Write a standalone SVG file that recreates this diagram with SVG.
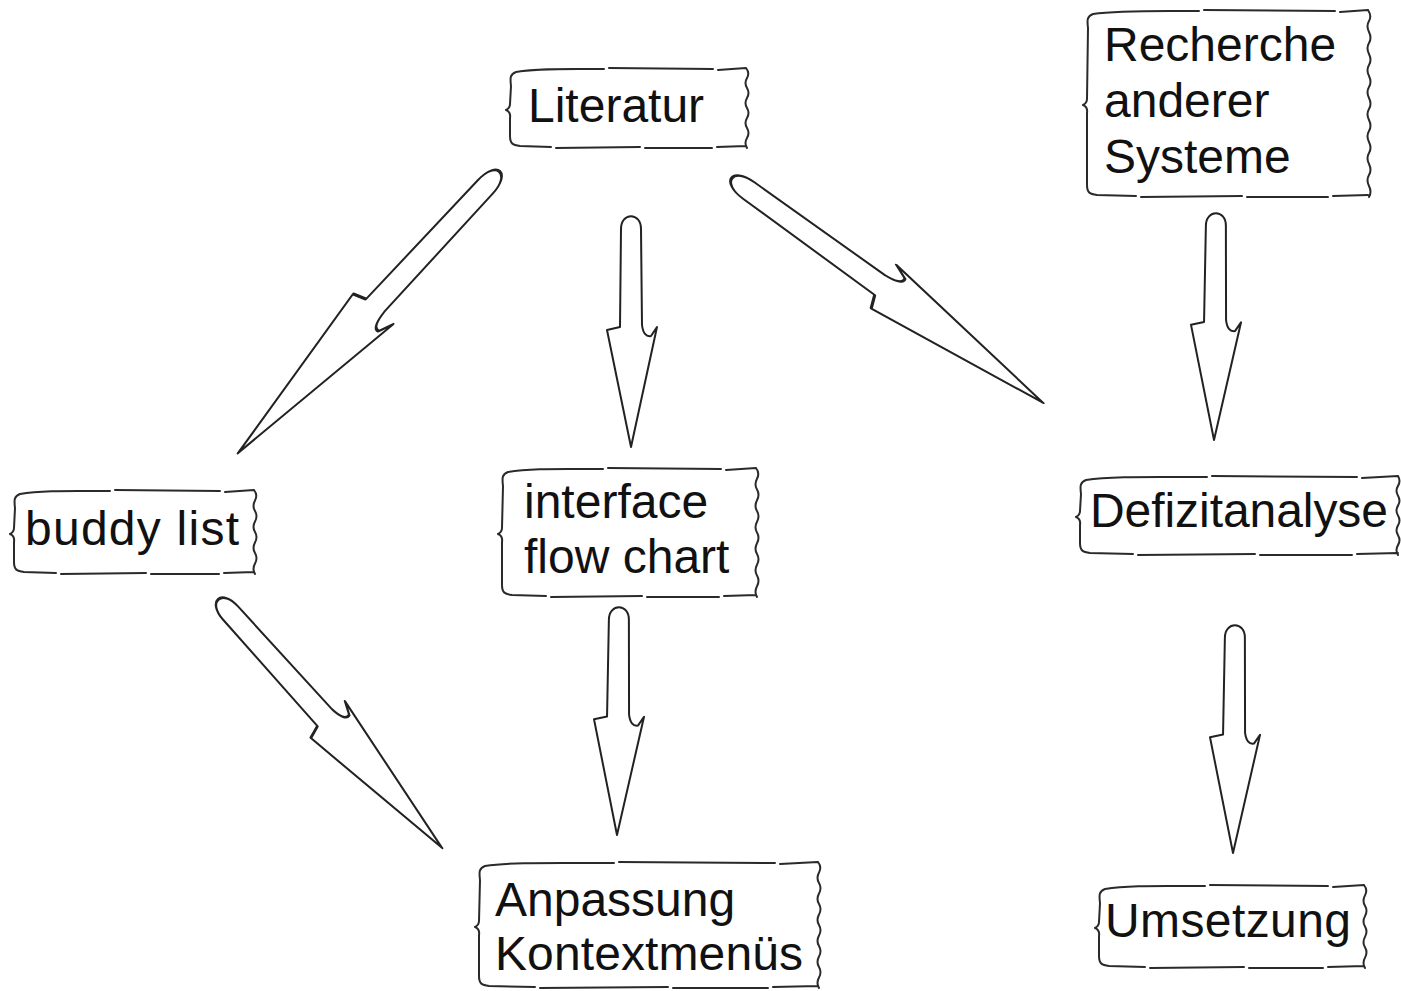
<svg xmlns="http://www.w3.org/2000/svg" xmlns:xlink="http://www.w3.org/1999/xlink" width="1401" height="991" viewBox="0 0 1401 991">
<style>
.box{fill:none;stroke:#2a2a2a;stroke-width:2;stroke-linecap:round;stroke-linejoin:round}
.lbl{font-family:"Liberation Sans",Arial,sans-serif;font-size:48px;fill:#111}
.arr{fill:#fff;stroke:#222;stroke-width:2;stroke-linejoin:round}
</style>
<defs>
<path id="arrow" d="M-10,14 C-10,-3 10,-3 10,14 L11,110 C12,118 15,122 20,121 L26,112 L0,232 L-24,115 L-11,112 Z"/>
</defs>
<rect width="1401" height="991" fill="#fff"/>

<g id="connectors">
<use xlink:href="#arrow" class="arr" transform="translate(501,170) rotate(42.9) scale(1,1.665)" style="vector-effect:non-scaling-stroke"/>
<use xlink:href="#arrow" class="arr" transform="translate(631,215)"/>
<use xlink:href="#arrow" class="arr" transform="translate(730,177) rotate(-54.2) scale(1,1.664)" style="vector-effect:non-scaling-stroke"/>
<use xlink:href="#arrow" class="arr" transform="translate(1216,212) rotate(0.5) scale(1,0.983)"/>
<use xlink:href="#arrow" class="arr" transform="translate(217,598) rotate(-42) scale(1,1.45)" style="vector-effect:non-scaling-stroke"/>
<use xlink:href="#arrow" class="arr" transform="translate(619,606) rotate(0.5) scale(1,0.987)"/>
<use xlink:href="#arrow" class="arr" transform="translate(1235,624) rotate(0.5) scale(1,0.987)"/>
</g>

<g id="literatur">
<path class="box" d="M516,72 C538,68 568,69 604,69 M609,68 L713,69 M718,70 L746,68 M516,72 C510,74 510,78 511,86 L510,104 Q510,108 506,110 Q511,112 510,118 L510,136 C510,144 513,145 520,146 L551,147 M556,148 L640,147 M645,148 L712,148 M717,147 L746,146 M746,68 q4,5 1,10 t0,10 t0,10 t0,10 t0,10 t0,10 t0,10 t0,10"/>
<text class="lbl" x="528" y="122">Literatur</text>
</g>

<g id="recherche">
<path class="box" d="M1093,14 C1120,10 1160,11 1199,11 M1204,10 L1335,11 M1340,12 L1368,10 M1093,14 C1087,16 1087,20 1088,28 L1087,99 Q1087,103 1083,105 Q1088,107 1087,113 L1087,185 C1087,193 1090,194 1097,195 L1136,196 M1141,197 L1242,196 M1247,197 L1328,197 M1333,196 L1368,195 M1368,10 q4,6 1,11 t0,11 t0,11 t0,11 t0,11 t0,11 t0,11 t0,11 t0,11 t0,11 t0,11 t0,11 t0,11 t0,11 t0,11 t0,11 t0,11"/>
<text class="lbl" x="1104" y="61">Recherche</text>
<text class="lbl" x="1104" y="117">anderer</text>
<text class="lbl" x="1104" y="173">Systeme</text>
</g>

<g id="buddy">
<path class="box" d="M20,494 C42,490 72,491 110,491 M115,490 L220,491 M225,492 L254,490 M20,494 C14,496 14,500 15,508 L14,528 Q14,532 10,534 Q15,536 14,542 L14,562 C14,570 17,571 24,572 L56,573 M61,574 L146,573 M151,574 L219,574 M224,573 L254,572 M254,490 q4,5 1,10.5 t0,10.5 t0,10.5 t0,10.5 t0,10.5 t0,10.5 t0,10.5 t0,10.5"/>
<text class="lbl" x="25" y="545" textLength="214" lengthAdjust="spacing">buddy list</text>
</g>

<g id="interface">
<path class="box" d="M508,472 C530,468 560,469 603,469 M608,468 L721,469 M726,470 L756,468 M508,472 C502,474 502,478 503,486 L502,528 Q502,532 498,534 Q503,536 502,542 L502,585 C502,593 505,594 512,595 L546,596 M551,597 L642,596 M647,597 L719,597 M724,596 L756,595 M756,468 q4,5 1,10.75 t0,10.75 t0,10.75 t0,10.75 t0,10.75 t0,10.75 t0,10.75 t0,10.75 t0,10.75 t0,10.75 t0,10.75 t0,10.75"/>
<text class="lbl" x="524" y="518">interface</text>
<text class="lbl" x="524" y="573">flow chart</text>
</g>

<g id="defizit">
<path class="box" d="M1086,480 C1110,476 1150,477 1207,477 M1212,476 L1357,477 M1362,478 L1398,476 M1086,480 C1080,482 1080,486 1081,494 L1080,511 Q1080,515 1076,517 Q1081,519 1080,525 L1080,543 C1080,551 1083,552 1090,553 L1133,554 M1138,555 L1255,554 M1260,555 L1352,555 M1357,554 L1398,553 M1398,476 q3,5 0,9.875 t0,9.875 t0,9.875 t0,9.875 t0,9.875 t0,9.875 t0,9.875 t0,9.875"/>
<text class="lbl" x="1090" y="527" textLength="298" lengthAdjust="spacing">Defizitanalyse</text>
</g>

<g id="anpassung">
<path class="box" d="M485,866 C510,862 550,863 614,863 M619,862 L775,863 M780,864 L818,862 M485,866 C479,868 479,872 480,880 L479,921 Q479,925 475,927 Q480,929 479,935 L479,976 C479,984 482,985 489,986 L535,987 M540,988 L668,987 M673,988 L768,988 M773,987 L818,986 M818,862 q4,5 1,10.5 t0,10.5 t0,10.5 t0,10.5 t0,10.5 t0,10.5 t0,10.5 t0,10.5 t0,10.5 t0,10.5 t0,10.5 t0,10.5"/>
<text class="lbl" x="495" y="916">Anpassung</text>
<text class="lbl" x="495" y="970" textLength="308" lengthAdjust="spacing">Kontextmenüs</text>
</g>

<g id="umsetzung">
<path class="box" d="M1105,889 C1128,885 1160,886 1205,886 M1210,885 L1328,886 M1333,887 L1364,885 M1105,889 C1099,891 1099,895 1100,903 L1099,922 Q1099,926 1095,928 Q1100,930 1099,936 L1099,956 C1099,964 1102,965 1109,966 L1145,967 M1150,968 L1244,967 M1249,968 L1323,968 M1328,967 L1364,966 M1364,885 q4,5 1,10.375 t0,10.375 t0,10.375 t0,10.375 t0,10.375 t0,10.375 t0,10.375 t0,10.375"/>
<text class="lbl" x="1105" y="937" textLength="246" lengthAdjust="spacing">Umsetzung</text>
</g>
</svg>
